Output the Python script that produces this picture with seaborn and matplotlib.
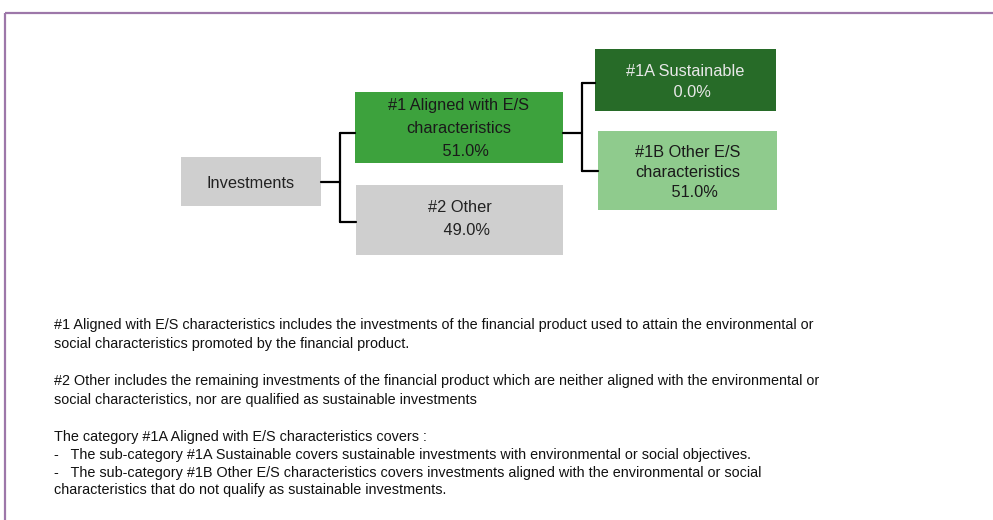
import matplotlib
matplotlib.use("Agg")
import matplotlib.pyplot as plt
from matplotlib.patches import Rectangle
import seaborn as sns

# Data: asset allocation categories and shares
categories = ["Investments", "#1 Aligned with E/S\ncharacteristics", "#2 Other",
              "#1A Sustainable", "#1B Other E/S\ncharacteristics"]
shares = [None, 51.0, 49.0, 0.0, 51.0]

notes = [
    "#1 Aligned with E/S characteristics includes the investments of the financial product used to attain the environmental or",
    "social characteristics promoted by the financial product.",
    "",
    "#2 Other includes the remaining investments of the financial product which are neither aligned with the environmental or",
    "social characteristics, nor are qualified as sustainable investments",
    "",
    "The category #1A Aligned with E/S characteristics covers :",
    "-   The sub-category #1A Sustainable covers sustainable investments with environmental or social objectives.",
    "-   The sub-category #1B Other E/S characteristics covers investments aligned with the environmental or social",
    "characteristics that do not qualify as sustainable investments.",
]

# Layout (pixel coordinates): x0, y0, x1, y1, face colour, text colour, text centre y, line gap
boxes = [
    (181, 157, 321, 206, "#cfcfcf", "#222222", 183, 1.3),
    (355, 92, 563, 163, "#3da23d", "#1a1a1a", 128.5, 1.63),
    (356, 185, 563, 255, "#cfcfcf", "#222222", 219, 1.63),
    (595, 49, 776, 111, "#276b28", "#e8e8e8", 82, 1.44),
    (598, 131, 777, 210, "#8fcb8d", "#1a1a1a", 172.5, 1.44),
]

sns.set_style("white")
plt.rcParams["font.family"] = ["Liberation Sans", "DejaVu Sans"]

fig = plt.figure(figsize=(9.93, 5.2), dpi=100)
ax = fig.add_axes([0, 0, 1, 1])
ax.set_xlim(0, 993)
ax.set_ylim(520, 0)
ax.axis("off")

# purple frame
ax.plot([5, 993], [13, 13], color="#9d77a9", lw=1.6, solid_capstyle="butt")
ax.plot([5, 5], [13, 520], color="#9d77a9", lw=1.6, solid_capstyle="butt")

for (x0, y0, x1, y1, fc, tc, ty, ls), name, share in zip(boxes, categories, shares):
    ax.add_patch(Rectangle((x0, y0), x1 - x0, y1 - y0, facecolor=fc, edgecolor="none"))
    label = name if share is None else f"{name}\n   {share:.1f}%"
    ax.text((x0 + x1) / 2, ty, label, ha="center", va="center",
            color=tc, fontsize=11.8, linespacing=ls, multialignment="center")

# connectors
lw = 1.6
ax.plot([321, 340], [182, 182], color="black", lw=lw)
ax.plot([340, 340], [133, 222], color="black", lw=lw)
ax.plot([340, 355], [133, 133], color="black", lw=lw)
ax.plot([340, 356], [222, 222], color="black", lw=lw)

ax.plot([563, 582], [133, 133], color="black", lw=lw)
ax.plot([582, 582], [83, 171], color="black", lw=lw)
ax.plot([582, 595], [83, 83], color="black", lw=lw)
ax.plot([582, 598], [171, 171], color="black", lw=lw)

line_y = [325, 344, 362, 381, 400, 418, 437, 455, 473, 490]
for y, line in zip(line_y, notes):
    if line:
        ax.text(54, y, line, ha="left", va="center", fontsize=10.4, color="#111111")

fig.savefig("out.png", dpi=100, facecolor="white")
